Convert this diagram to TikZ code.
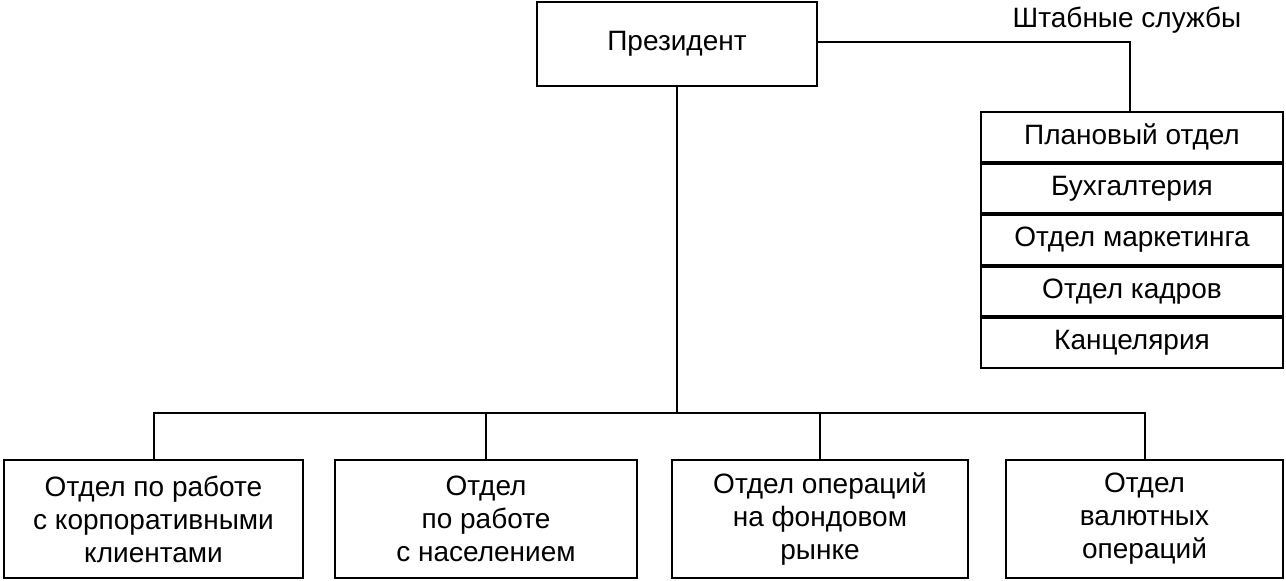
\documentclass[tikz,border=0pt]{standalone}
\usepackage{fontspec}
\setmainfont{Liberation Sans}
\usetikzlibrary{positioning}
\tikzset{every picture/.style={line width=2pt}}
\tikzset{
  box/.style={draw, minimum width=#1, minimum height=118pt, align=center, inner sep=0pt, font=\fontsize{28}{33}\selectfont},
  staff/.style={draw, minimum width=302pt, minimum height=49.6pt, inner sep=0pt, font=\fontsize{28}{33}\selectfont}
}
\begin{document}
\begin{tikzpicture}[x=1pt,y=1pt,yscale=-1]
	\useasboundingbox (0,0) rectangle (1286,581);

	% President
	\node [draw, minimum width=280pt, minimum height=84pt, inner sep=0pt, font=\fontsize{28}{33}\selectfont] (pres) at (677,44) {Президент};
	\node [font=\fontsize{28}{33}\selectfont] (lbl) at (1127,20) {Штабные службы};

	% Staff services
	\node [staff] (s1) at (1132,136.8) {Плановый отдел};
	\node [staff, below=0pt of s1] (s2) {Бухгалтерия};
	\node [staff, below=0pt of s2] (s3) {Отдел маркетинга};
	\node [staff, below=0pt of s3] (s4) {Отдел кадров};
	\node [staff, below=0pt of s4] (s5) {Канцелярия};
	\coordinate (sc) at (1130,42);
	\draw (pres.east |- sc) -- (sc) -- (sc |- s1.north);

	% Departments
	\node [box=299pt] (d1) at (153.5,519) {Отдел по работе\\с корпоративными\\клиентами};
	\node [box=302pt] (d2) at (486,519) {Отдел\\по работе\\с населением};
	\node [box=296pt] (d3) at (820,519) {Отдел операций\\на фондовом\\рынке};
	\node [box=277pt] (d4) at (1144.5,519) {Отдел\\валютных\\операций};

	\coordinate (bus) at (677,413);
	\draw (pres.south) -- (bus);
	\draw (d1.north) -- (d1.north |- bus) -- (d4.north |- bus) -- (d4.north);
	\draw (d2.north) -- (d2.north |- bus);
	\draw (d3.north) -- (d3.north |- bus);
\end{tikzpicture}
\end{document}
